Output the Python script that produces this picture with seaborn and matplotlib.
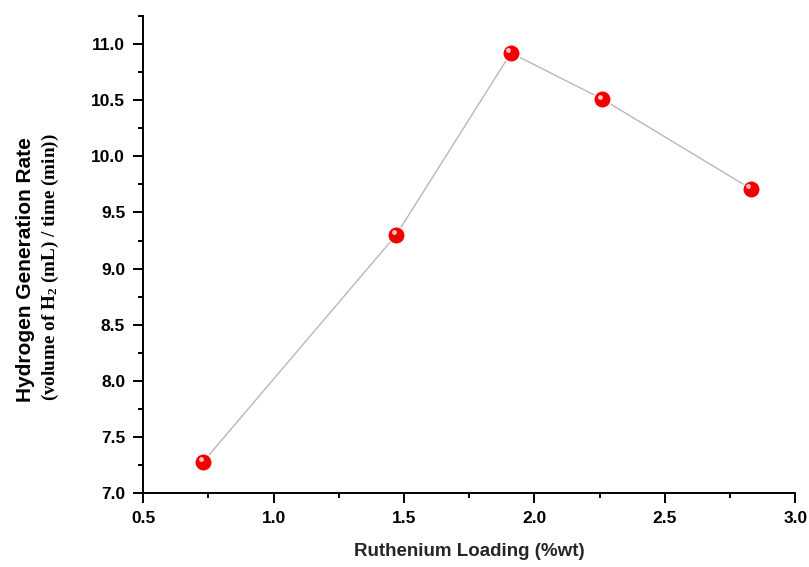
import matplotlib
matplotlib.use("Agg")
import matplotlib.pyplot as plt
import matplotlib.transforms as mtransforms
from matplotlib.ticker import MultipleLocator
import pandas as pd
import seaborn as sns

# values
loading = [0.73, 1.47, 1.91, 2.26, 2.83]
rate = [7.28, 9.30, 10.92, 10.51, 9.71]

df = pd.DataFrame({"Loading": loading, "Rate": rate})

sns.set_style("ticks")
plt.rcParams["font.family"] = ["Liberation Sans", "DejaVu Sans"]
plt.rcParams["text.color"] = "black"
plt.rcParams["xtick.color"] = "black"
plt.rcParams["ytick.color"] = "black"
plt.rcParams["axes.edgecolor"] = "black"

fig = plt.figure(figsize=(8.09, 5.67), dpi=100)
ax = fig.add_axes([0.177, 0.130, 0.806, 0.842])

sns.lineplot(data=df, x="Loading", y="Rate", ax=ax, color="#b8b8b8", linewidth=1.0,
             marker="o", markersize=12.5, markerfacecolor="#f20000",
             markeredgecolor="white", markeredgewidth=1.0)
# small highlight to imitate the shaded spheres
shift = mtransforms.offset_copy(ax.transData, fig=fig, x=-2.5, y=2.5, units="dots")
ax.scatter(df["Loading"], df["Rate"], s=12, color="#ffc4c4", transform=shift,
           zorder=5, linewidths=0)

ax.set_xlim(0.5, 3.0)
ax.set_ylim(7.0, 11.25)
ax.xaxis.set_major_locator(MultipleLocator(0.5))
ax.xaxis.set_minor_locator(MultipleLocator(0.25))
ax.yaxis.set_minor_locator(MultipleLocator(0.25))
ax.set_yticks([7.0, 7.5, 8.0, 8.5, 9.0, 9.5, 10.0, 10.5, 11.0])

sns.despine(ax=ax)
for s in ["left", "bottom"]:
    ax.spines[s].set_linewidth(1.4)
ax.tick_params(which="major", length=7, width=1.4, direction="out", labelsize=12.5, pad=6)
ax.tick_params(which="minor", length=3.5, width=1.4, direction="out")
for lab in ax.get_xticklabels() + ax.get_yticklabels():
    lab.set_fontweight("bold")

ax.set_xlabel("Ruthenium Loading (%wt)", fontsize=13.5, fontweight="bold", labelpad=12)
ax.set_ylabel("")
fig.text(0.031, 0.525, "Hydrogen Generation Rate", rotation=90, fontsize=15,
         fontweight="bold", ha="center", va="center")
fig.text(0.062, 0.528, r"(volume of $\mathregular{H_2}$ (mL) / time (min))", rotation=90,
         fontsize=13.8, fontweight="bold", family=["Liberation Serif", "DejaVu Serif"],
         ha="center", va="center")

fig.savefig("out.png", dpi=100, facecolor="white")
